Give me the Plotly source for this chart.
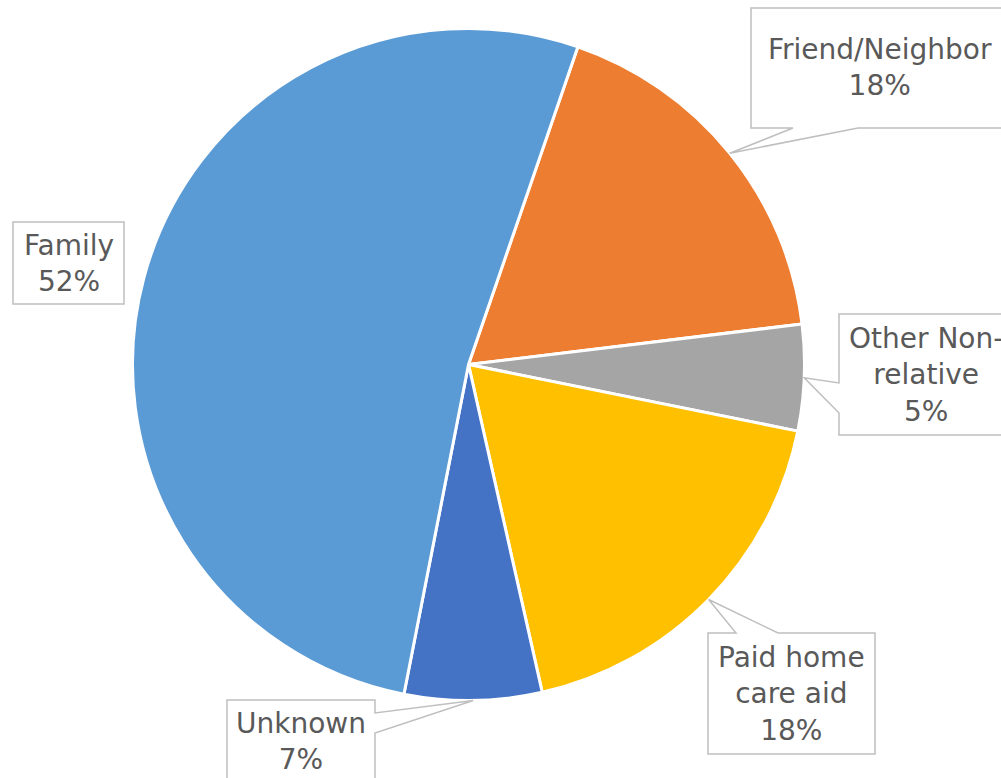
import math
import plotly.graph_objects as go

# ---- data ----
categories = ["Friend/Neighbor", "Other Non-relative", "Paid home care aid", "Unknown", "Family"]
display_labels = ["Friend/Neighbor", "Other Non-<br>relative", "Paid home<br>care aid", "Unknown", "Family"]
values = [17.8, 5.1, 18.3, 6.6, 52.2]
colors = ["#ED7D31", "#A5A5A5", "#FFC000", "#4472C4", "#5B9BD5"]

W, H = 1001, 778
ROT = 19  # first slice starts 19 deg clockwise from 12 o'clock

# pie geometry (pixels)
CX, CY, R = 468.5, 364.5, 336.0


def px(x):
    return x / W


def py(y):
    return 1 - y / H


fig = go.Figure()
fig.add_trace(go.Pie(
    labels=categories,
    values=values,
    sort=False,
    direction="clockwise",
    rotation=ROT,
    marker=dict(colors=colors, line=dict(color="white", width=3)),
    textinfo="none",
    hoverinfo="label+percent",
    showlegend=False,
    domain=dict(x=[px(CX - R), px(CX + R)], y=[py(CY + R), py(CY - R)]),
))

# slice mid-angle tips on the pie edge (from data)
total = sum(values)
tips = []
acc = 0
for v in values:
    mid = ROT + 360 * (acc + v / 2) / total
    a = math.radians(mid)
    tips.append((CX + R * math.sin(a), CY - R * math.cos(a)))
    acc += v

# callout boxes: (left, top, right, bottom)
boxes = {
    "Friend/Neighbor": (751, 8, 1009, 128),
    "Other Non-relative": (839, 314, 1013, 435),
    "Paid home care aid": (708, 633, 875, 754),
    "Unknown": (227, 700, 375, 782),
    "Family": (13, 222, 124, 304),
}


def P(x, y):
    return f"{px(x):.6f},{py(y):.6f}"


def path(points):
    return "M " + " L ".join(P(x, y) for x, y in points) + " Z"


shapes = []
for i, cat in enumerate(categories):
    l, t, r, b = boxes[cat]
    tx, ty = tips[i]
    if cat == "Friend/Neighbor":
        pts = [(l, t), (r, t), (r, b), (858, b), (tx, ty), (793, b), (l, b)]
    elif cat == "Other Non-relative":
        pts = [(l, t), (r, t), (r, b), (l, b), (l, 413), (tx, ty), (l, 383)]
    elif cat == "Paid home care aid":
        pts = [(l, t), (736, t), (tx, ty), (778, t), (r, t), (r, b), (l, b)]
    elif cat == "Unknown":
        pts = [(l, t), (r, t), (r, 713), (tx, ty), (r, 733), (r, b + 20), (l, b + 20)]
    else:
        pts = [(l, t), (r, t), (r, b), (l, b)]
    shapes.append(dict(type="path", xref="paper", yref="paper", path=path(pts),
                       line=dict(color="#BFBFBF", width=1.5), fillcolor="white",
                       layer="above"))

annotations = []
for i, cat in enumerate(categories):
    l, t, r, b = boxes[cat]
    pct = round(100 * values[i] / total)
    annotations.append(dict(
        x=px((l + r) / 2), y=py((t + b) / 2), xref="paper", yref="paper",
        text=f"{display_labels[i]}<br>{pct}%", showarrow=False,
        xanchor="center", yanchor="middle", align="center",
        font=dict(family="DejaVu Sans", size=28, color="#595959"),
    ))

fig.update_layout(
    width=W, height=H,
    margin=dict(l=0, r=0, t=0, b=0),
    paper_bgcolor="white", plot_bgcolor="white",
    shapes=shapes, annotations=annotations,
)

fig.write_html("out.html")
